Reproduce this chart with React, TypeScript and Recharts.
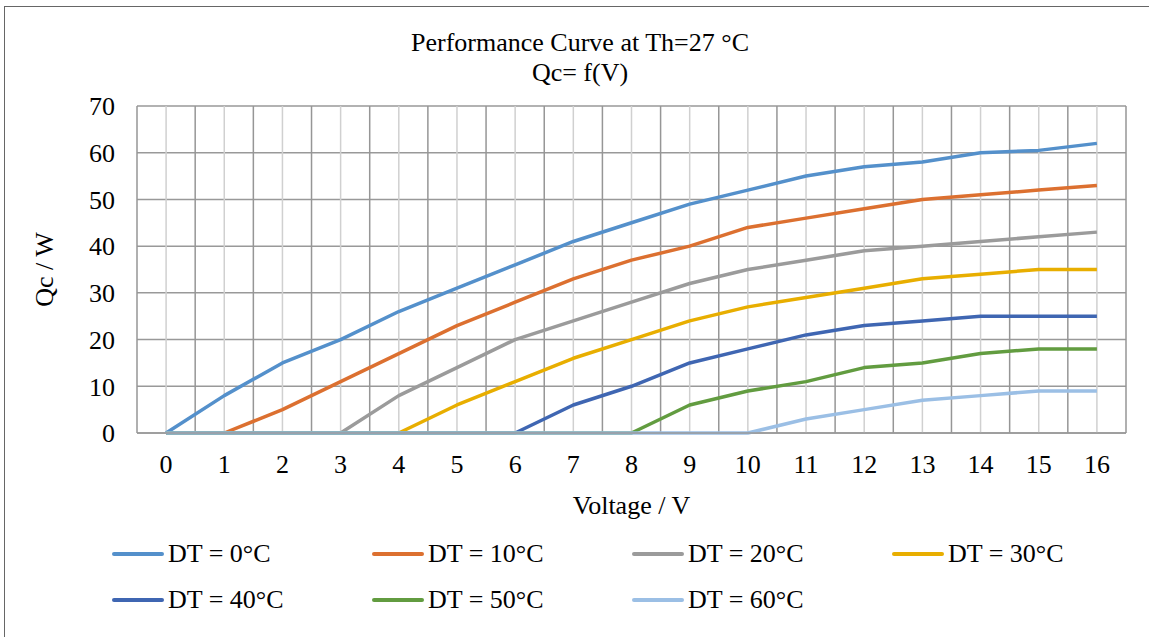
import { LineChart, Line, XAxis, YAxis, CartesianGrid, ReferenceLine, Legend, Label } from "recharts";

const VOLTAGES = [0, 1, 2, 3, 4, 5, 6, 7, 8, 9, 10, 11, 12, 13, 14, 15, 16];
const Y_TICKS = [0, 10, 20, 30, 40, 50, 60, 70];

const DT0 = [0, 8, 15, 20, 26, 31, 36, 41, 45, 49, 52, 55, 57, 58, 60, 60.5, 62];
const DT10 = [0, 0, 5, 11, 17, 23, 28, 33, 37, 40, 44, 46, 48, 50, 51, 52, 53];
const DT20 = [0, 0, 0, 0, 8, 14, 20, 24, 28, 32, 35, 37, 39, 40, 41, 42, 43];
const DT30 = [0, 0, 0, 0, 0, 6, 11, 16, 20, 24, 27, 29, 31, 33, 34, 35, 35];
const DT40 = [0, 0, 0, 0, 0, 0, 0, 6, 10, 15, 18, 21, 23, 24, 25, 25, 25];
const DT50 = [0, 0, 0, 0, 0, 0, 0, 0, 0, 6, 9, 11, 14, 15, 17, 18, 18];
const DT60 = [0, 0, 0, 0, 0, 0, 0, 0, 0, 0, 0, 3, 5, 7, 8, 9, 9];

const SERIES = [
  { key: "dt0", name: "DT = 0°C", values: DT0, color: "#5490CB" },
  { key: "dt10", name: "DT = 10°C", values: DT10, color: "#DC7030" },
  { key: "dt20", name: "DT = 20°C", values: DT20, color: "#9B9B9B" },
  { key: "dt30", name: "DT = 30°C", values: DT30, color: "#E8AE00" },
  { key: "dt40", name: "DT = 40°C", values: DT40, color: "#3F66B2" },
  { key: "dt50", name: "DT = 50°C", values: DT50, color: "#629C40" },
  { key: "dt60", name: "DT = 60°C", values: DT60, color: "#9BBFE5" },
];

const FONT = "'Liberation Serif', 'Times New Roman', serif";

const data = VOLTAGES.map((v, i) => {
  const row: Record<string, number> = { v };
  SERIES.forEach((s) => {
    row[s.key] = s.values[i];
  });
  return row;
});

const boundaries = [...VOLTAGES.map((v) => v - 0.5), VOLTAGES[VOLTAGES.length - 1] + 0.5];

function renderLegend() {
  return (
    <div style={{ display: "flex", flexWrap: "wrap", width: 1040, fontFamily: FONT, fontSize: 26, color: "#000" }}>
      {SERIES.map((s) => (
        <div key={s.key} style={{ width: 260, height: 46, display: "flex", alignItems: "center" }}>
          <span style={{ display: "inline-block", width: 52, height: 4, background: s.color, borderRadius: 2, marginRight: 4 }} />
          <span>{s.name}</span>
        </div>
      ))}
    </div>
  );
}

export default function App() {
  return (
    <div style={{ position: "absolute", left: 0, top: 0, width: 1149, height: 637, overflow: "hidden", background: "#fff" }}>
      <div
        style={{
          position: "absolute",
          left: 4,
          top: 6,
          width: 1200,
          height: 700,
          borderLeft: "1.5px solid #666",
          borderTop: "1.5px solid #666",
        }}
      />
      <div
        style={{
          position: "absolute",
          left: 280,
          top: 28,
          width: 600,
          textAlign: "center",
          fontFamily: FONT,
          fontSize: 26,
          lineHeight: "30px",
          color: "#000",
        }}
      >
        <div>Performance Curve at Th=27 °C</div>
        <div>Qc= f(V)</div>
      </div>
      <div style={{ position: "absolute", left: 0, top: 0 }}>
        <LineChart width={1149} height={637} data={data} margin={{ top: 106, right: 23, bottom: 174, left: 77 }}>
          {VOLTAGES.map((v) => (
            <ReferenceLine key={"c" + v} x={v} stroke="#d0d0d0" strokeWidth={1.5} />
          ))}
          {boundaries.map((b) => (
            <ReferenceLine key={"b" + b} x={b} stroke="#969696" strokeWidth={1.5} />
          ))}
          <CartesianGrid vertical={false} stroke="#999" strokeWidth={1.5} />
          <XAxis
            dataKey="v"
            type="number"
            domain={[-0.5, 16.5]}
            ticks={VOLTAGES}
            interval={0}
            tickLine={false}
            axisLine={{ stroke: "#999", strokeWidth: 1.5 }}
            tickMargin={16}
            tick={{ fontSize: 26, fill: "#000", fontFamily: FONT }}
          >
            <Label value="Voltage / V" position="bottom" offset={33} style={{ fontSize: 26, fill: "#000", fontFamily: FONT }} />
          </XAxis>
          <YAxis
            type="number"
            domain={[0, 70]}
            ticks={Y_TICKS}
            interval={0}
            width={60}
            tickLine={false}
            axisLine={false}
            tickMargin={16}
            tick={{ fontSize: 26, fill: "#000", fontFamily: FONT }}
          >
            <Label
              content={({ viewBox }: any) => {
                const cx = viewBox.x - 33;
                const cy = viewBox.y + viewBox.height / 2;
                return (
                  <text
                    x={cx}
                    y={cy}
                    transform={`rotate(-90, ${cx}, ${cy})`}
                    textAnchor="middle"
                    dominantBaseline="central"
                    style={{ fontSize: 26, fill: "#000", fontFamily: FONT }}
                  >
                    Qc / W
                  </text>
                );
              }}
            />
          </YAxis>
          <Legend
            layout="horizontal"
            verticalAlign="middle"
            align="center"
            content={renderLegend}
            wrapperStyle={{ position: "absolute", left: 112, top: 531, width: 1040 }}
          />
          {SERIES.map((s) => (
            <Line
              key={s.key}
              dataKey={s.key}
              name={s.name}
              type="linear"
              stroke={s.color}
              strokeWidth={3.5}
              strokeLinejoin="round"
              dot={false}
              activeDot={false}
              isAnimationActive={false}
            />
          ))}
        </LineChart>
      </div>
    </div>
  );
}
